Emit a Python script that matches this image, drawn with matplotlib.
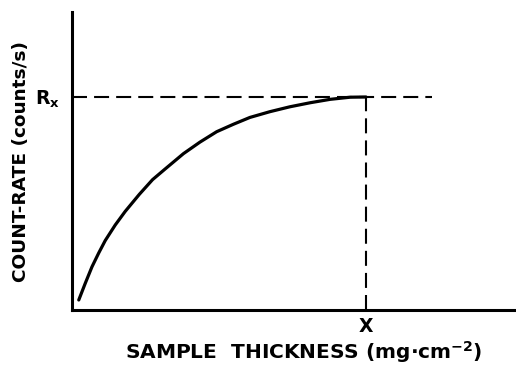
import matplotlib.pyplot as plt
import matplotlib as mpl

mpl.rcParams['font.family'] = 'DejaVu Sans'
mpl.rcParams['font.weight'] = 'bold'
mpl.rcParams['mathtext.default'] = 'bf'

# curve (arbitrary units, X = 10, Rx = 100)
thickness = [0.23, 0.45, 0.68, 0.91, 1.13, 1.47, 1.81, 2.29, 2.74, 3.15, 3.79, 4.35,
             4.92, 5.49, 6.05, 6.73, 7.41, 8.10, 8.78, 9.46, 10.0]
count_rate = [4.7, 12.5, 20.3, 26.8, 32.6, 39.9, 46.3, 54.3, 61.2, 66.0, 73.4, 78.8,
              83.7, 87.2, 90.4, 93.1, 95.4, 97.3, 98.9, 99.9, 100.0]

x_mark = 10.0
rx_mark = 100.0
dash_end = 12.24

fig = plt.figure(figsize=(5.16, 3.68), dpi=100)
ax = fig.add_axes([72/516, 58/368, 444/516, 298/368])

ax.plot(thickness, count_rate, color='black', lw=2.3,
        solid_capstyle='round', solid_joinstyle='round')
ax.plot([0, dash_end], [rx_mark, rx_mark], color='black', lw=1.5, linestyle=(0, (7.2, 3.4)))
ax.plot([x_mark, x_mark], [0, rx_mark], color='black', lw=1.5, linestyle=(0, (7.2, 3.4)))

ax.set_xlim(0, 15.1)
ax.set_ylim(0, 139.9)
ax.spines['top'].set_visible(False)
ax.spines['right'].set_visible(False)
ax.spines['left'].set_linewidth(2.2)
ax.spines['bottom'].set_linewidth(2.2)

ax.set_xticks([x_mark])
ax.set_xticklabels(['X'])
ax.set_yticks([rx_mark])
ax.set_yticklabels([r'R$_x$'])
ax.tick_params(length=0, labelsize=13.5)
ax.tick_params(axis='x', pad=5)
ax.tick_params(axis='y', pad=9)

ax.set_xlabel(r'SAMPLE  THICKNESS (mg$\cdot$cm$^{-2}$)', fontsize=14.5, fontweight='bold')
ax.set_ylabel('COUNT-RATE (counts/s)', fontsize=13.3, fontweight='bold')
ax.xaxis.set_label_coords(0.5225, -0.098)
ax.yaxis.set_label_coords(-0.095, 0.5)

fig.savefig('out.png', dpi=100)
